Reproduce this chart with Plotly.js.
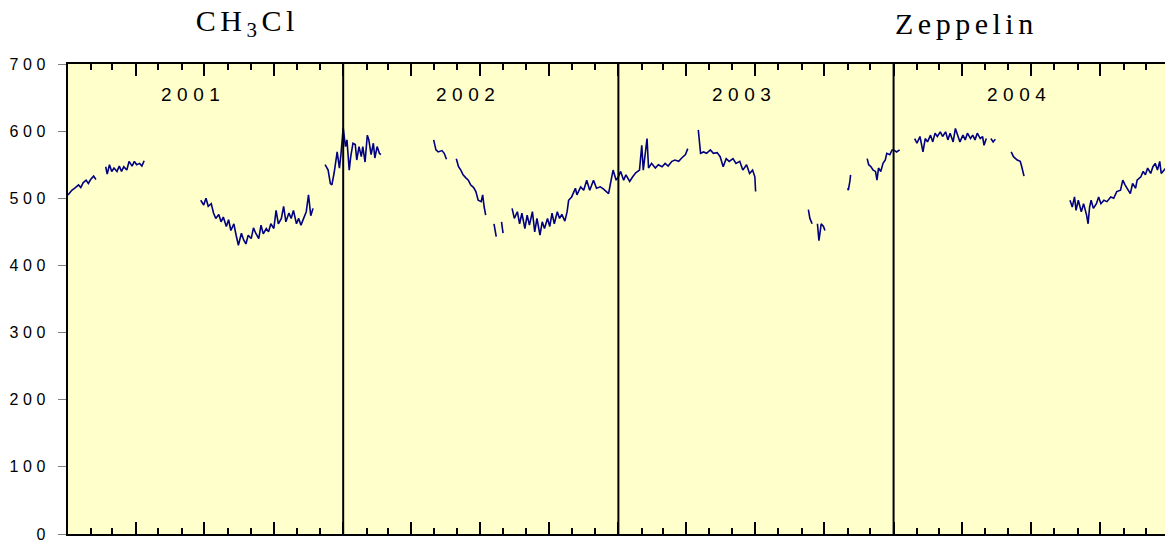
<!DOCTYPE html>
<html><head><meta charset="utf-8">
<script src="https://cdn.plot.ly/plotly-3.0.1.min.js"></script>
<style>html,body{margin:0;padding:0;background:#fff;overflow:hidden}</style>
</head><body>
<div id="chart" style="width:1165px;height:543px"></div>
<script>
// ---- data ----
const seriesStart = [2001, 0, 1];            // day 0 of dayOffset
const years = [2001, 2002, 2003, 2004];
const yearLabels = ['2001', '2002', '2003', '2004'];
const yTickVals = [0, 100, 200, 300, 400, 500, 600, 700];
const titleLeft = 'CH<sub>3</sub>Cl';
const titleRight = 'Zeppelin';

// days since 2001-01-01 (null = gap in record)
const dayOffset = [
  0,5,9,14,17,20,24,27,30,34,37, null,
  50,52,55,58,61,65,68,71,74,78,81,85,88,91,95,98,101, null,
  176,180,183,186,190,193,196,200,203,206,210,213,216,220,223,226,230,233,236,239,243,246,249,253,256,259,263,266,269,273,276,279,283,286,289,293,296,299,303,306,309,312,316,319,322,325, null,
  341,345,348,350,353,357,360,362,365,368,370,373,375,378,381,383,386,389,391,394,397,399,402,405,407,410,413,415, null,
  485,488,491,496,499,502, null,
  515,518,521,524,528,531,534,538,541,544,548,550,552,554, null,
  565,568, null,
  575,577, null,
  589,592,596,599,602,606,609,612,616,619,622,626,629,632,636,639,642,645,649,652,655,659,662,664,668,673,675,680,684,688,692,697,701,706,710,714,717,720,723,727,730,733,737,740,745,749,753,758,761,763,768,770,774,779,783,788,792,796,801,805,810,814,819,822, null,
  836,839,843,847,852,856,861,865,869,873,877,882,886,891,895,900,904,908,911,912, null,
  982,984,987, null,
  994,996,999,1002,1004, null,
  1034,1035,1037,1038, null,
  1060,1062,1065,1068,1071,1073,1075,1078,1081,1084,1086,1090,1093,1095,1099,1103, null,
  1123,1126,1130,1134,1137,1140,1144,1147,1150,1153,1157,1160,1164,1167,1170,1174,1177,1180,1183,1187,1190,1193,1197,1200,1203,1206,1210,1213,1215,1218, null,
  1224,1227,1230, null,
  1251,1254,1259,1263,1265,1268, null,
  1329,1332,1335,1337,1340,1344,1347,1351,1353,1355,1357,1360,1364,1367,1370,1374,1378,1383,1387,1391,1396,1399,1402,1405,1409,1412,1416,1418,1423,1426,1429,1432,1436,1439,1442,1445,1448,1450,1453,1456
];
// CH3Cl mixing ratio (ppt)
const ch3cl = [
  505,512,515,520,516,523,527,522,528,533,528, null,
  547,536,550,540,545,540,548,540,547,542,555,548,555,550,552,548,556, null,
  497,490,500,488,492,478,470,476,465,472,458,468,452,462,445,430,448,438,432,445,440,456,448,440,460,447,455,450,462,455,482,462,470,488,465,478,470,482,462,470,460,468,480,505,474,485, null,
  550,542,522,520,538,569,545,565,605,577,587,542,562,582,580,557,577,562,577,554,594,587,565,582,560,577,567,565, null,
  587,572,569,571,567,558, null,
  559,547,542,535,530,527,520,516,510,497,495,505,487,475, null,
  462,443, null,
  465,448, null,
  485,470,480,462,478,455,475,460,480,450,470,445,465,455,470,458,478,462,480,470,476,466,480,497,502,515,505,517,512,527,512,527,515,517,514,510,507,525,542,527,532,540,527,535,525,532,538,542,579,542,589,545,552,545,550,547,552,548,555,557,555,560,565,574, null,
  602,567,569,567,572,567,568,562,547,559,555,559,552,555,542,550,537,542,532,510, null,
  483,470,462, null,
  462,437,462,458,452, null,
  515,512,525,535, null,
  559,550,547,542,540,527,545,540,552,557,567,565,572,572,569,572, null,
  589,582,592,569,589,584,594,584,597,592,599,592,599,587,597,584,604,592,584,594,587,597,589,594,587,597,589,592,579,589, null,
  589,584,588, null,
  569,562,557,555,547,533, null,
  497,487,502,482,497,480,492,475,462,487,497,485,492,502,492,497,495,502,500,510,512,527,520,515,507,522,515,527,532,540,535,545,537,547,552,542,555,537,542,545
];

// ---- build ----
const base = Date.UTC(seriesStart[0], seriesStart[1], seriesStart[2]);
const xDates = dayOffset.map(d => d === null ? null :
  new Date(base + d * 864e5).toISOString().slice(0, 10));

const trace = {
  x: xDates, y: ch3cl, type: 'scatter', mode: 'lines',
  connectgaps: false, hoverinfo: 'skip',
  line: { color: '#000080', width: 1.6 }
};

const sans = 'Arial, "Liberation Sans", sans-serif';
const serif = '"Times New Roman", "Liberation Serif", serif';

const shapes = years.slice(1).map(y => ({
  type: 'line', xref: 'x', yref: 'paper',
  x0: `${y}-01-01`, x1: `${y}-01-01`, y0: 0, y1: 1,
  line: { color: '#000', width: 2 }
}));

const annotations = years.map((y, i) => ({
  xref: 'x', yref: 'paper', x: `${y}-06-16`, y: 0.936,
  xanchor: 'center', yanchor: 'middle', showarrow: false,
  text: yearLabels[i], font: { family: sans, size: 19, color: '#000' }
})).concat([
  { xref: 'paper', yref: 'paper', x: 0.1636, y: 1.087, xanchor: 'center', yanchor: 'middle',
    showarrow: false, text: titleLeft, font: { family: serif, size: 30, color: '#000' } },
  { xref: 'paper', yref: 'paper', x: 0.819, y: 1.087, xanchor: 'center', yanchor: 'middle',
    showarrow: false, text: titleRight, font: { family: serif, size: 30, color: '#000' } }
]);

const layout = {
  width: 1165, height: 543,
  margin: { l: 68, r: 0, t: 64, b: 9, pad: 0 },
  paper_bgcolor: '#ffffff', plot_bgcolor: '#FFFFCC',
  showlegend: false,
  xaxis: {
    type: 'date', range: ['2001-01-01', '2004-12-26'],
    showticklabels: false, showgrid: false, zeroline: false,
    ticks: 'inside', tick0: '2001-01-01', dtick: 'M3',
    ticklen: 12, tickwidth: 2, tickcolor: '#000',
    minor: { ticks: 'inside', tick0: '2001-01-01', dtick: 'M1', ticklen: 6, tickwidth: 2, tickcolor: '#000', showgrid: false },
    showline: true, linecolor: '#000', linewidth: 2, mirror: 'ticks'
  },
  yaxis: {
    range: [0, 700], tickmode: 'array', tickvals: yTickVals,
    ticks: 'outside', ticklen: 8, tickwidth: 1, tickcolor: '#808080',
    showgrid: false, zeroline: false,
    showline: true, linecolor: '#000', linewidth: 2,
    ticklabelstandoff: 5,
    tickfont: { family: sans, size: 16, color: '#000' }
  },
  shapes: shapes,
  annotations: annotations
};

Plotly.newPlot('chart', [trace], layout, { staticPlot: true, displayModeBar: false }).then(gd => {
  gd.querySelectorAll('.annotation-text').forEach(t => {
    const txt = t.textContent;
    if (yearLabels.includes(txt)) t.style.letterSpacing = '5.5px';
    else t.style.letterSpacing = '4.5px';
  });
  gd.querySelectorAll('.ytick text').forEach(t => { t.style.letterSpacing = '4.5px'; });
});
</script>
</body></html>
